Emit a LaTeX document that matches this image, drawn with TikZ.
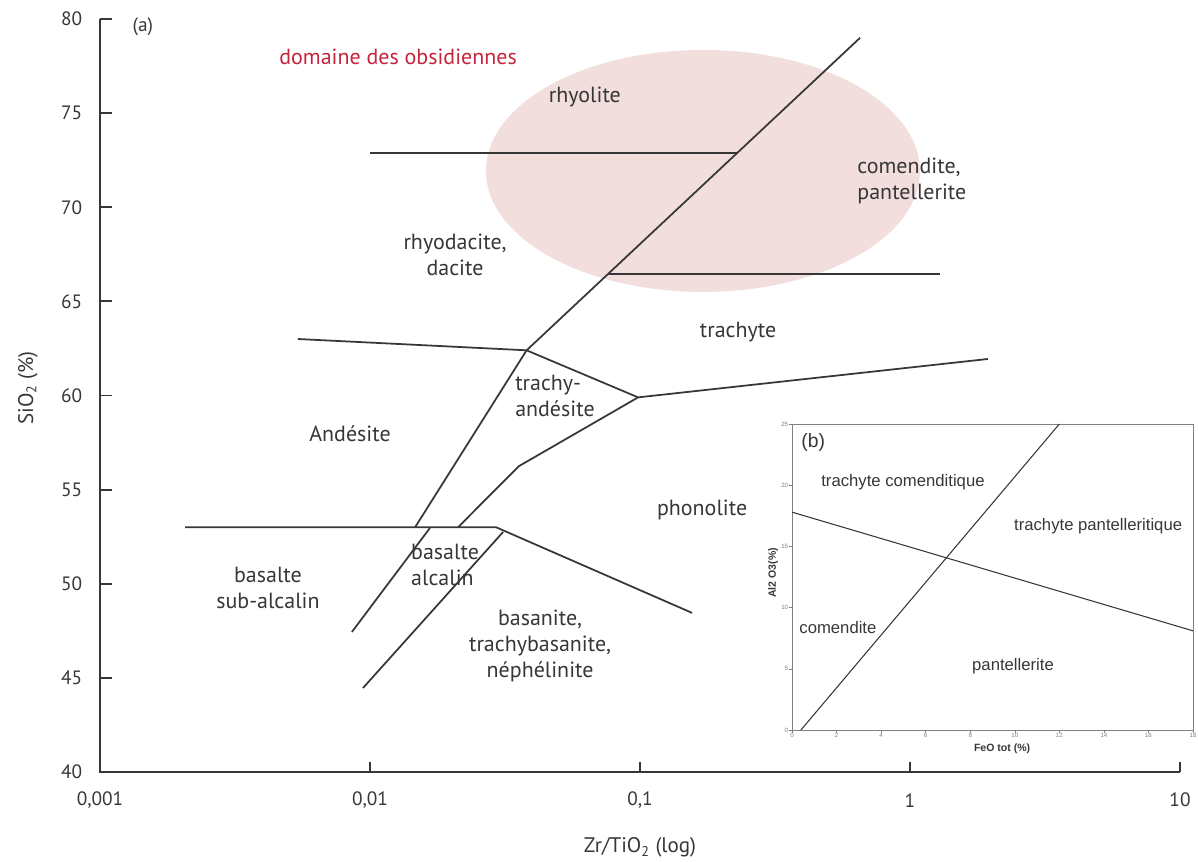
\documentclass[tikz,border=0pt]{standalone}
\usepackage{fontspec}
\setmainfont{PT Sans}
\newfontfamily\insetfont{Liberation Sans}
\definecolor{inkgray}{RGB}{55,55,55}
\definecolor{obsred}{RGB}{200,35,60}
\definecolor{obspink}{RGB}{243,222,222}
\begin{document}
\begin{tikzpicture}[x=5.4cm, y=0.3765cm,
    axis/.style={inkgray, line width=1.1pt},
    zone/.style={inkgray, line width=1pt},
    rock/.style={text=inkgray, font=\fontsize{12.5}{15}\selectfont, inner sep=0pt},
    ticklbl/.style={text=inkgray, font=\fontsize{11}{13}\selectfont, inner sep=0pt},
    minilbl/.style={text=inkgray, font=\insetfont\fontsize{9.5}{11}\selectfont, inner sep=0pt},
    minitick/.style={text=gray, font=\insetfont\fontsize{3.5}{4}\selectfont, inner sep=0.5pt}]
  \useasboundingbox (-0.3704,35.27) rectangle (4.0667,81.01);

  % Draw obsidian domain
  \fill[obspink] (2.233,71.93) ellipse [x radius=4.34cm, y radius=2.42cm];
  \node[rock, text=obsred] (obs) at (1.104,77.98) {domaine des obsidiennes};

  % Draw axes
  \coordinate (origin) at (0,40);
  \coordinate (ymax) at (0,80);
  \coordinate (xmax) at (4,40);
  \draw[axis] (ymax) -- (origin) -- (xmax);
  \foreach \y in {45,50,...,80} {
    \draw[axis] (0,\y) -- (0.044,\y);
  }
  \foreach \y in {40,45,...,80} {
    \node[ticklbl, anchor=east] (ylab\y) at (-0.065,\y) {\y};
  }
  \foreach \x in {1,2,3,4} {
    \draw[axis] (\x,40) -- (\x,40.53);
  }
  \foreach \x/\t in {0/{0,001},1/{0,01},2/{0,1},3/1,4/10} {
    \node[ticklbl] (xlab\x) at (\x,38.5) {\t};
  }
  \node[ticklbl, font=\fontsize{12}{14}\selectfont] (xtitle) at (2.0,35.98) {Zr/TiO\textsubscript{2} (log)};
  \node[ticklbl, font=\fontsize{12}{14}\selectfont, rotate=90] (ytitle) at (-0.267,60.4) {SiO\textsubscript{2} (\%)};
  \node[ticklbl] (tag a) at (0.159,79.58) {(a)};

  % Draw field boundaries
  \coordinate (apex) at (1.58,62.4);
  \coordinate (top) at (2.815,79.0);
  \coordinate (tav) at (1.993,59.9);
  \coordinate (tab) at (1.552,56.25);
  \coordinate (tac) at (1.326,53.0);
  \coordinate (andb) at (1.167,53.0);
  \coordinate (bend) at (1.467,53.0);
  \draw[zone] (apex) -- (top);
  \draw[zone] (1.0,72.9) coordinate (rh1) -- (2.362,72.9) coordinate (rh2);
  \draw[zone] (1.881,66.45) coordinate (dc1) -- (3.111,66.45) coordinate (dc2);
  \draw[zone] (0.733,63.0) coordinate (an1) -- (apex) -- (tav) -- (3.289,61.94) coordinate (tr1);
  \draw[zone] (tav) -- (tab) -- (tac);
  \draw[zone] (apex) -- (andb);
  \draw[zone] (0.315,53.0) coordinate (ba1) -- (bend) -- (2.193,48.45) coordinate (ph1);
  \draw[zone] (1.222,52.96) coordinate (bs1) -- (0.933,47.44) coordinate (bs2);
  \draw[zone] (1.493,52.75) coordinate (bn1) -- (0.974,44.46) coordinate (bn2);

  % Draw field names
  \node[rock] (rhyolite) at (1.796,75.86) {rhyolite};
  \node[rock, align=left] (comendite) at (3.007,71.4) {comendite,\\pantellerite};
  \node[rock, align=center] (rhyodacite) at (1.315,67.46) {rhyodacite,\\dacite};
  \node[rock] (trachyte) at (2.363,63.37) {trachyte};
  \node[rock, align=left] (trachyand) at (1.685,59.97) {trachy-\\and\'esite};
  \node[rock] (andesite) at (0.926,57.95) {And\'esite};
  \node[rock] (phonolite) at (2.230,53.92) {phonolite};
  \node[rock, align=left] (basalk) at (1.278,51.0) {basalte\\alcalin};
  \node[rock, align=center] (basub) at (0.622,49.77) {basalte\\sub-alcalin};
  \node[rock, align=center] (basanite) at (1.630,46.69) {basanite,\\trachybasanite,\\n\'eph\'elinite};

  % Draw inset (b)
  \begin{scope}[shift={(2.563,42.23)}, x=0.4456cm, y=0.2448cm]
    \fill[white] (0,0) rectangle (18,25);
    \draw[gray, line width=0.5pt] (0,0) rectangle (18,25);
    \foreach \x in {0,2,...,18} {
      \draw[gray, line width=0.3pt] (\x,0) -- (\x,-0.25);
      \node[minitick, below] (fx\x) at (\x,-0.2) {\x};
    }
    \foreach \y in {0,5,...,25} {
      \draw[gray, line width=0.3pt] (0,\y) -- (-0.12,\y);
      \node[minitick, left] (fy\y) at (-0.12,\y) {\y};
    }
    \coordinate (cp1) at (0,17.8);
    \coordinate (cp2) at (18,8.1);
    \coordinate (ct1) at (0.4,0);
    \coordinate (ct2) at (12,25);
    \draw[inkgray, line width=0.6pt] (cp1) -- (cp2);
    \draw[inkgray, line width=0.6pt] (ct1) -- (ct2);
    \node[minilbl, font=\insetfont\fontsize{11}{13}\selectfont] (tag b) at (0.95,23.5) {(b)};
    \node[minilbl] (trcom) at (4.98,20.26) {trachyte comenditique};
    \node[minilbl] (trpan) at (13.74,16.67) {trachyte pantelleritique};
    \node[minilbl] (com) at (2.06,8.41) {comendite};
    \node[minilbl] (pan) at (9.92,5.23) {pantellerite};
    \node[minilbl, font=\insetfont\bfseries\fontsize{6}{7}\selectfont] (feo) at (9.43,-1.55) {FeO tot (\%)};
    \node[minilbl, font=\insetfont\bfseries\fontsize{6}{7}\selectfont, rotate=90] (al) at (-0.85,12.83) {Al2 O3(\%)};
  \end{scope}
\end{tikzpicture}
\end{document}
